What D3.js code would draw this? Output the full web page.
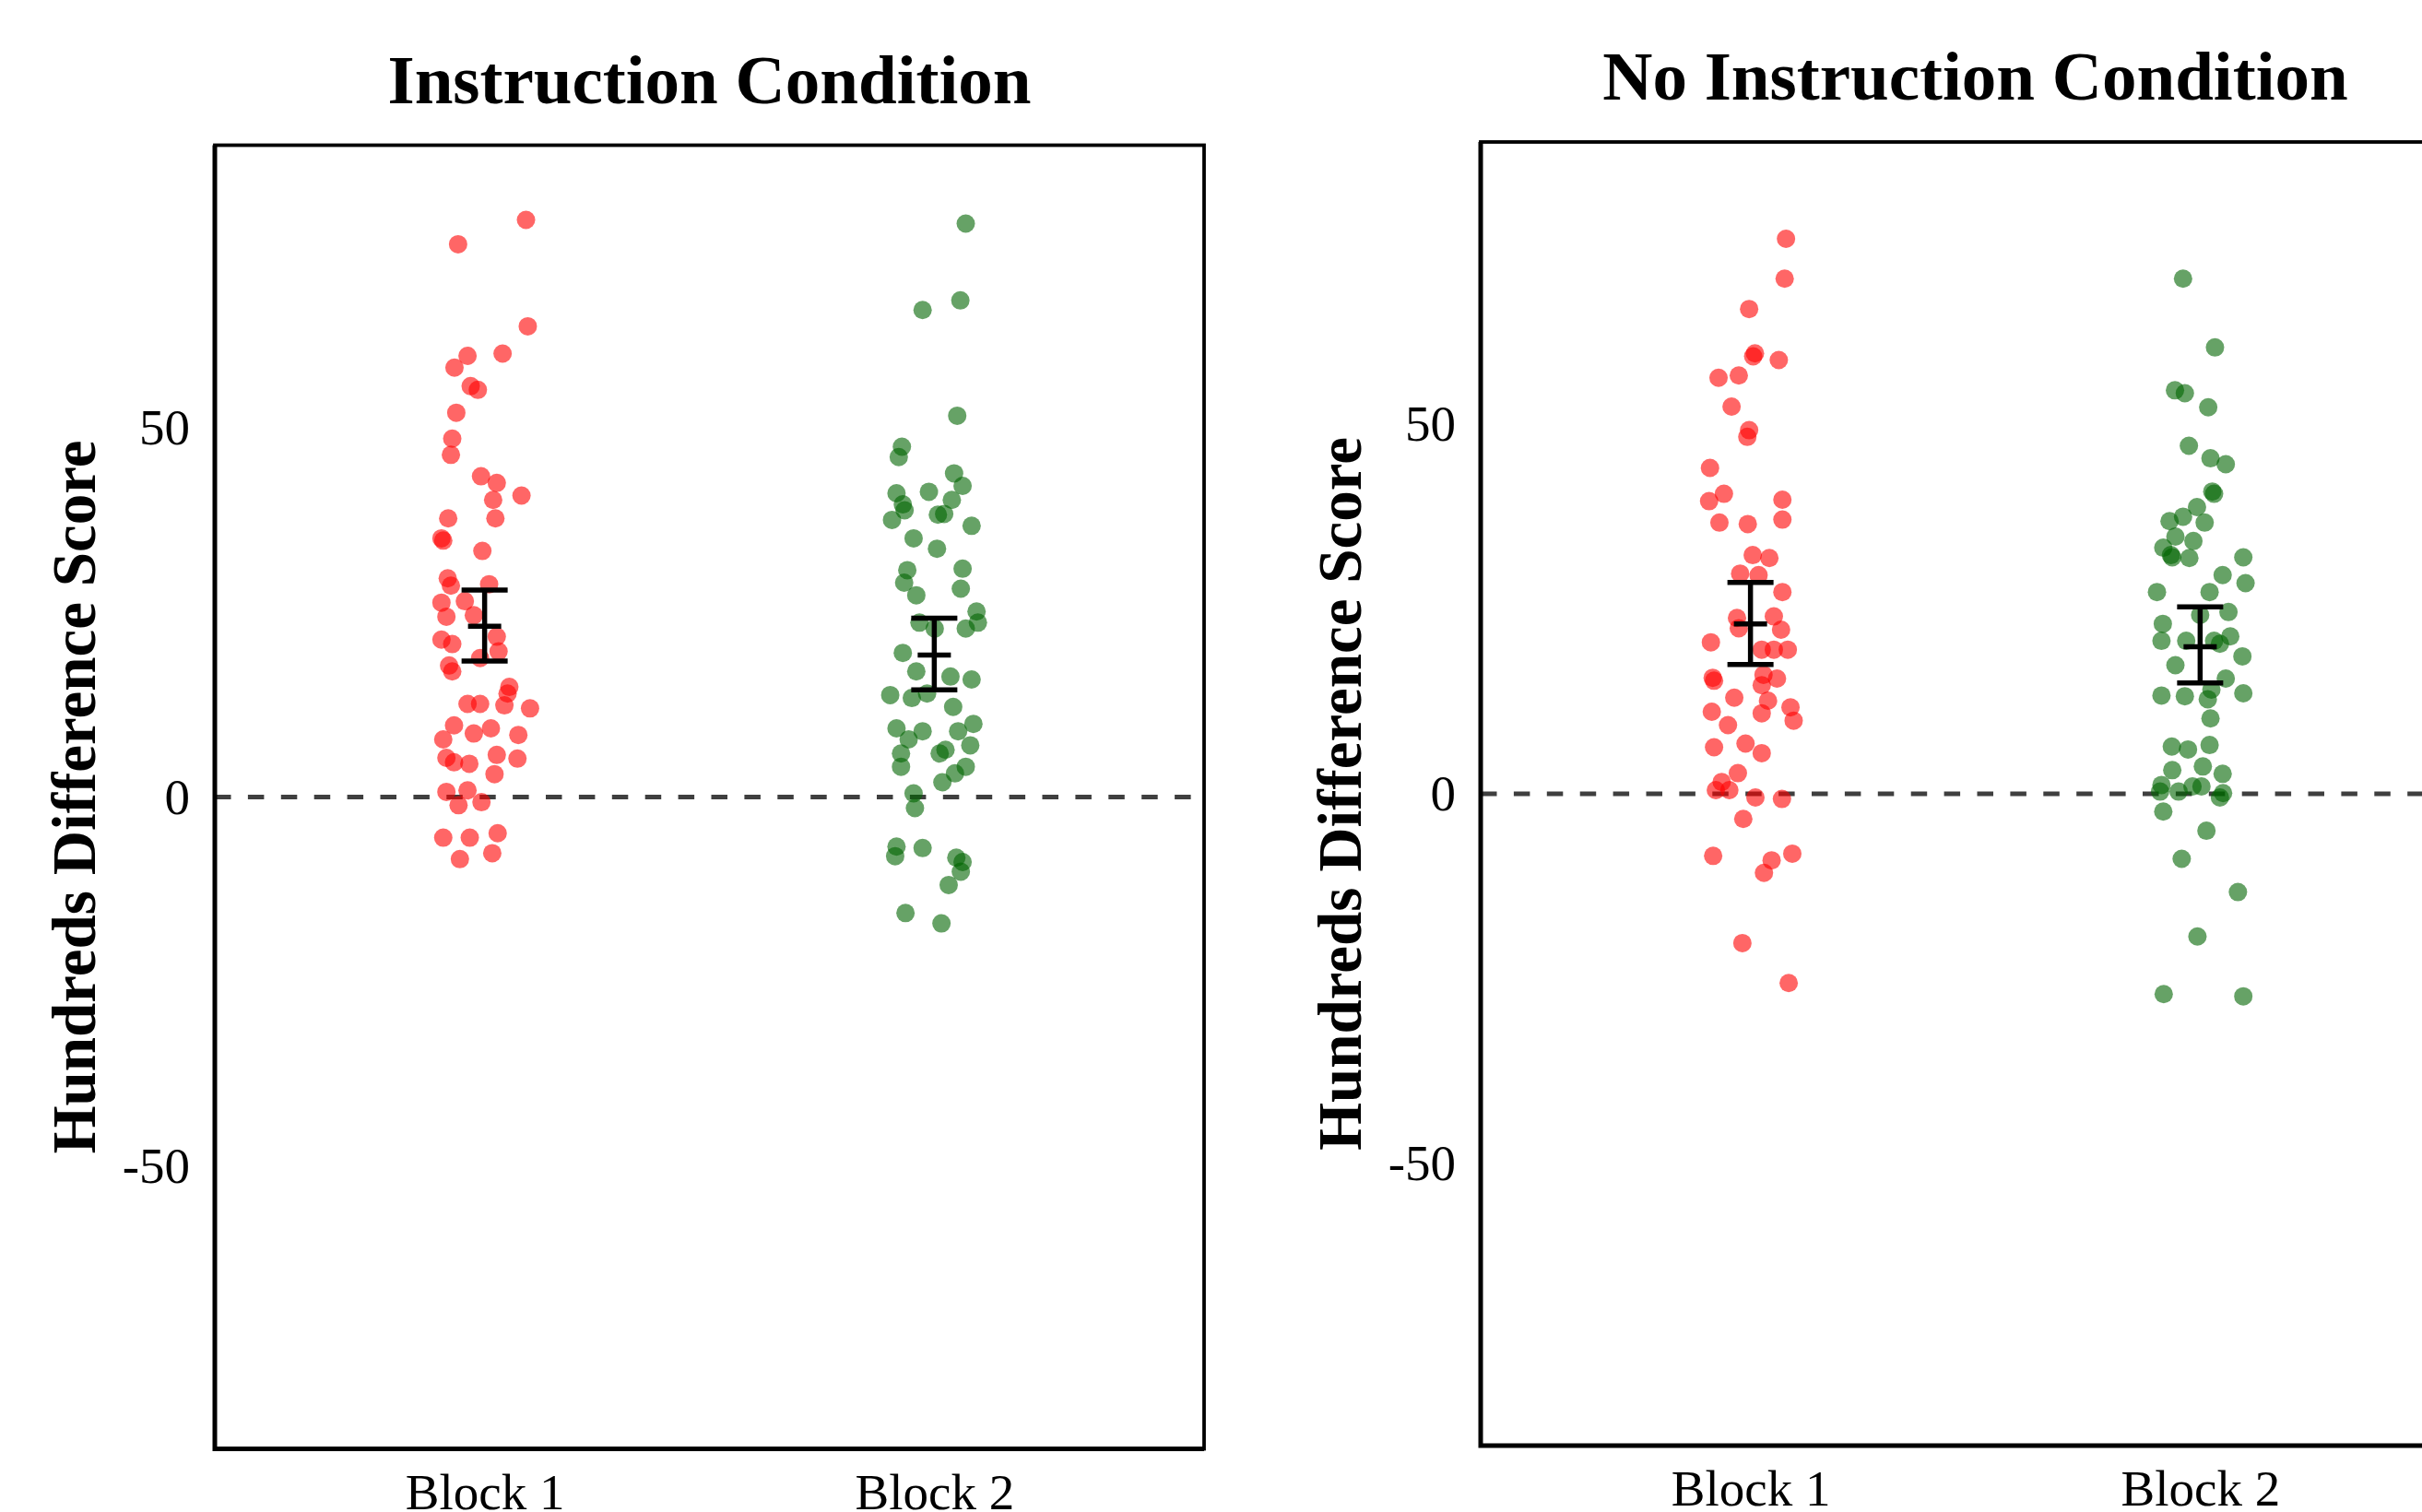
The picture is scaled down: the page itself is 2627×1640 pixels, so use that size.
<!DOCTYPE html>
<html>
<head>
<meta charset="utf-8">
<script src="https://cdn.jsdelivr.net/npm/d3@7"></script>
<style>
  body { margin: 0; background: #fff; }
  svg { display: block; }
  text { font-family: "Liberation Serif", "Times New Roman", serif; fill: #000; }
</style>
</head>
<body>
<div id="chart"></div>
<script>
var width = 2627,
  height = 1640;

var conditions = ['Instruction Condition', 'No Instruction Condition'];
var blocks = ['Block 1', 'Block 2'];
var yTicks = [-50, 0, 50];
var yLabel = 'Hundreds Difference Score';

// scores; jitter is the horizontal offset in category units
var instrBlock1 = [78.1, 74.8, 63.7, 60.0, 59.7, 58.1, 55.6, 55.1, 52.0, 48.5, 46.3, 43.4, 42.5, 40.8, 40.2, 37.7, 37.7, 35.0, 34.7, 33.3, 29.6, 28.6, 28.8, 26.3, 26.5, 24.4, 24.6, 21.7, 21.3, 20.7, 19.7, 18.8, 17.8, 17.0, 14.9, 14.0, 12.6, 12.6, 12.4, 12.0, 9.7, 8.6, 9.3, 8.4, 7.8, 5.7, 5.2, 5.3, 4.7, 4.5, 3.1, 0.7, 0.9, -1.1, -0.7, -5.5, -5.5, -4.9, -7.6, -8.4];
var instrBlock1Jitter = [.092, -.059, .096, .040, -.038, -.067, -.031, -.015, -.063, -.072, -.075, -.008, .027, .082, .019, -.081, .024, -.096, -.092, -.005, -.082, -.075, .010, -.096, -.044, -.085, -.024, .027, -.096, -.072, .031, -.010, -.079, -.072, .055, .051, -.038, -.010, .044, .101, -.068, -.024, .014, .075, -.092, .027, .073, -.085, -.068, -.034, .022, -.085, -.038, -.058, -.007, -.092, -.033, .029, .017, -.055];

var instrBlock2 = [77.6, 67.2, 65.9, 51.6, 47.4, 46.0, 43.8, 42.1, 41.1, 41.3, 40.2, 39.6, 38.8, 37.5, 38.2, 38.3, 36.7, 35.0, 33.6, 30.7, 29.0, 30.9, 28.2, 27.3, 25.1, 23.6, 22.8, 23.6, 22.8, 19.5, 17.0, 16.3, 15.9, 13.8, 13.4, 14.0, 12.2, 9.3, 8.9, 9.9, 8.9, 7.8, 7.0, 5.9, 5.9, 6.4, 4.1, 4.1, 3.2, 2.0, 0.5, -1.5, -6.7, -8.0, -6.9, -8.2, -8.8, -10.1, -11.9, -15.7, -17.1];
var instrBlock2Jitter = [.070, .058, -.026, .051, -.072, -.079, .044, .063, -.084, -.012, .039, -.070, -.066, -.094, .008, .022, .083, -.046, .006, -.060, -.067, .063, .059, -.040, .094, .097, .070, -.033, .001, -.070, -.040, .036, .083, -.098, -.050, -.016, .042, -.084, -.026, .087, .053, -.057, .080, -.074, .012, .025, -.074, .070, .046, .018, -.046, -.043, -.084, -.087, -.026, .049, .063, .059, .032, -.064, .016];

var noInstrBlock1 = [75.1, 69.7, 65.6, 59.6, 59.2, 58.7, 56.3, 56.6, 52.4, 49.2, 48.3, 44.1, 40.6, 39.6, 39.8, 36.7, 36.5, 37.1, 32.3, 31.9, 29.8, 29.6, 27.3, 23.8, 22.4, 24.0, 22.2, 20.5, 19.5, 19.5, 19.5, 15.7, 15.3, 16.1, 15.6, 14.7, 13.0, 12.6, 11.7, 11.1, 10.9, 9.9, 9.3, 6.3, 6.8, 5.5, 2.8, 1.6, 0.5, 0.5, -0.5, -0.7, -3.4, -8.4, -8.1, -9.0, -10.7, -20.2, -25.6];
var noInstrBlock1Jitter = [.079, .076, -.003, .010, .006, .063, -.071, -.026, -.042, -.003, -.007, -.090, -.059, -.092, .071, -.069, -.006, .071, .005, .042, -.023, .018, .071, -.030, -.026, .052, .068, -.088, .025, .052, .083, -.084, -.081, .029, .059, .025, -.036, .039, .089, -.086, .025, .096, -.050, -.081, -.011, .025, -.028, -.064, -.077, -.047, .011, .070, -.016, -.083, .093, .047, .030, -.018, .085];

var noInstrBlock2 = [69.7, 60.4, 54.6, 54.2, 52.3, 47.1, 45.4, 44.6, 40.9, 40.6, 38.8, 37.5, 36.9, 36.7, 34.8, 34.2, 33.3, 32.3, 32.0, 31.9, 32.0, 29.6, 28.5, 27.3, 27.3, 24.6, 23.0, 24.2, 20.7, 20.7, 20.7, 20.3, 21.3, 18.6, 17.4, 15.6, 14.1, 13.3, 13.2, 12.8, 13.6, 10.2, 6.4, 6.0, 6.6, 3.2, 3.7, 2.7, 1.2, 0.3, 0.3, 1.0, 1.0, 0.1, -0.5, -2.4, -5.0, -8.8, -13.3, -19.3, -27.1, -27.4];
var noInstrBlock2Jitter = [-.038, .033, -.056, -.034, .018, -.025, .023, .057, .027, .031, -.007, -.038, -.068, .010, -.055, -.015, -.082, -.065, -.062, -.024, .096, .050, .101, -.096, .021, .063, -.083, .000, -.086, -.031, .031, .044, .067, .094, -.055, .057, .025, -.086, -.034, .017, .096, .023, -.063, -.027, .021, -.062, .006, .050, -.086, -.089, -.048, -.017, .003, .051, .044, -.082, .014, -.041, .084, -.006, -.081, .096];

// mean and confidence interval per condition, [Block 1, Block 2]
var means = [[23.1, 19.2], [23.0, 19.9]];
var ciLow = [[18.4, 14.5], [17.5, 15.0]];
var ciHigh = [[28.0, 24.2], [28.6, 25.3]];

var scores = [[instrBlock1, instrBlock2], [noInstrBlock1, noInstrBlock2]];
var jitters = [[instrBlock1Jitter, instrBlock2Jitter], [noInstrBlock1Jitter, noInstrBlock2Jitter]];

var blockColor = d3.scaleOrdinal()
  .domain(blocks)
  .range(['#ff0000', '#006400']);

var panelW = 1073,
  panelH = 1414;
var panels = [{ left: 233, top: 157.5 }, { left: 1606, top: 154 }];

var x = d3.scalePoint()
  .domain(blocks)
  .range([0, panelW])
  .padding(0.6);

var y = d3.scaleLinear()
  .domain([-88.2, 88.2])
  .range([panelH, 0]);

var svg = d3.select('#chart')
  .append('svg')
  .attr('width', width)
  .attr('height', height);

svg.append('rect')
  .attr('width', width)
  .attr('height', height)
  .attr('fill', '#fff');

conditions.forEach(function (cond, ci) {
  var g = svg.append('g')
    .attr('transform', 'translate(' + panels[ci].left + ',' + panels[ci].top + ')');

  g.append('text')
    .attr('x', panelW / 2)
    .attr('y', -46)
    .attr('text-anchor', 'middle')
    .style('font-size', '75px')
    .style('font-weight', 'bold')
    .text(cond);

  g.append('text')
    .attr('transform', 'translate(-130,' + (panelH / 2) + ') rotate(-90)')
    .attr('text-anchor', 'middle')
    .style('font-size', '67px')
    .style('font-weight', 'bold')
    .text(yLabel);

  // zero reference
  g.append('line')
    .attr('x1', 0)
    .attr('x2', panelW)
    .attr('y1', y(0))
    .attr('y2', y(0))
    .attr('stroke', '#3f3f3f')
    .attr('stroke-width', 5)
    .attr('stroke-dasharray', '17.5,18.4');

  // points
  blocks.forEach(function (b, bi) {
    var pts = scores[ci][bi].map(function (v, i) {
      return { v: v, j: jitters[ci][bi][i] };
    });
    g.selectAll('.pt' + bi)
      .data(pts)
      .enter()
      .append('circle')
      .attr('class', 'pt' + bi)
      .attr('cx', function (d) { return x(b) + d.j * x.step(); })
      .attr('cy', function (d) { return y(d.v); })
      .attr('r', 10)
      .attr('fill', blockColor(b))
      .attr('fill-opacity', 0.6);
  });

  // error bars
  var bars = g.selectAll('.bar')
    .data(blocks)
    .enter()
    .append('g')
    .attr('class', 'bar')
    .attr('stroke', '#000')
    .attr('stroke-width', 5.5);

  bars.append('line')
    .attr('x1', function (d) { return x(d); })
    .attr('x2', function (d) { return x(d); })
    .attr('y1', function (d, i) { return y(ciLow[ci][i]); })
    .attr('y2', function (d, i) { return y(ciHigh[ci][i]); });

  [ciLow, ciHigh].forEach(function (arr) {
    bars.append('line')
      .attr('x1', function (d) { return x(d) - 25; })
      .attr('x2', function (d) { return x(d) + 25; })
      .attr('y1', function (d, i) { return y(arr[ci][i]); })
      .attr('y2', function (d, i) { return y(arr[ci][i]); });
  });

  bars.append('line')
    .attr('x1', function (d) { return x(d) - 18; })
    .attr('x2', function (d) { return x(d) + 18; })
    .attr('y1', function (d, i) { return y(means[ci][i]); })
    .attr('y2', function (d, i) { return y(means[ci][i]); });

  // axes
  var yAxis = g.append('g')
    .call(d3.axisLeft(y).tickValues(yTicks).tickSize(0).tickPadding(27)
      .tickFormat(function (d) { return String(d); }));
  yAxis.select('.domain').remove();
  yAxis.selectAll('text')
    .style('font-size', '55px')
    .style('font-family', '"Liberation Serif", serif');

  var xAxis = g.append('g')
    .attr('transform', 'translate(0,' + panelH + ')')
    .call(d3.axisBottom(x).tickSize(0).tickPadding(26));
  xAxis.select('.domain').remove();
  xAxis.selectAll('text')
    .style('font-size', '55px')
    .style('font-family', '"Liberation Serif", serif');

  // panel border with heavier axis lines
  g.append('rect')
    .attr('width', panelW)
    .attr('height', panelH)
    .attr('fill', 'none')
    .attr('stroke', '#000')
    .attr('stroke-width', 3.8);

  g.append('path')
    .attr('d', 'M0,0V' + panelH + 'H' + panelW)
    .attr('fill', 'none')
    .attr('stroke', '#000')
    .attr('stroke-width', 5);
});
</script>
</body>
</html>
